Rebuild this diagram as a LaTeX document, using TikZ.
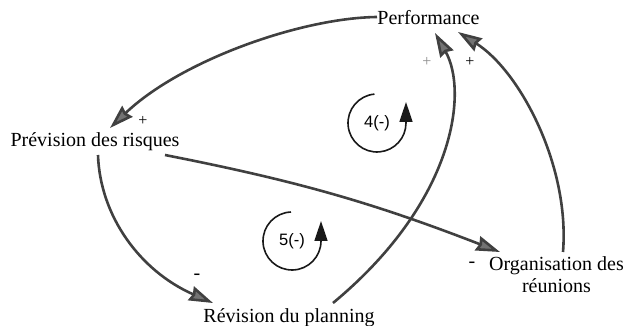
\documentclass[tikz,border=0pt]{standalone}
\usepackage{fontspec}
\setmainfont{Liberation Serif}
\newfontfamily\loopfont{Liberation Sans}
\usetikzlibrary{arrows.meta}
\begin{document}
\begin{tikzpicture}[x=1pt,y=1pt,
  lbl/.style={font=\fontsize{20}{22}\selectfont, inner sep=0pt, text=black},
  sgn/.style={font=\fontsize{16}{16}\selectfont, inner sep=0pt},
  link/.style={draw=black!75, line width=2.6pt, -{Stealth[length=24pt,width=15pt,inset=2pt,fill=black!55]}},
  loopline/.style={draw=black!90, line width=1.6pt, -{Triangle[length=20pt,width=13pt]}},
  looplbl/.style={font={\loopfont\fontsize{16.5}{16.5}\selectfont}, inner sep=0pt}]
\useasboundingbox (0,0) rectangle (625,326);
\node[lbl,anchor=base] (perf) at (428.5,301) {Performance};
\node[lbl,anchor=base] (prev) at (95,179) {Prévision des risques};
\node[lbl,anchor=base] (rev) at (289,3) {Révision du planning};
\node[lbl,anchor=north,align=center] (org) at (556.5,69.3) {Organisation des\\réunions};
\draw[link] ([shift={(-51.5,8)}]perf.base) .. controls (300,308) and (180,265) .. ([shift={(15,19)}]prev.base);
\draw[link] ([shift={(3,-8)}]prev.base) .. controls (100,110) and (140,55) .. ([shift={(-76,20)}]rev.base);
\draw[link] ([shift={(70,-8)}]prev.base) to[bend left=5] ([shift={(-56.5,4.7)}]org.north);
\draw[link] ([shift={(44,20)}]rev.base) .. controls (456,125) and (468,235) .. ([shift={(6.5,-8)}]perf.base);
\draw[link] ([shift={(6.5,4.7)}]org.north) .. controls (570,160) and (520,255) .. ([shift={(29.5,-7)}]perf.base);
\node[sgn] (s1) at (143,205) {+};
\node[sgn,text=black!45] (s2) at (427,264) {+};
\node[sgn] (s3) at (470,264) {+};
\node[lbl] (s4) at (197,49) {-};
\node[lbl] (s5) at (472,61) {-};
\node[looplbl] (l4) at (377,203) {4(-)};
\draw[loopline] ([shift={(95:29)}]l4.center) arc[start angle=95,end angle=360,radius=29] -- ++(0,21);
\node[looplbl] (l5) at (292,85) {5(-)};
\draw[loopline] ([shift={(92:29)}]l5.center) arc[start angle=92,end angle=360,radius=29] -- ++(0,20);
\end{tikzpicture}
\end{document}
